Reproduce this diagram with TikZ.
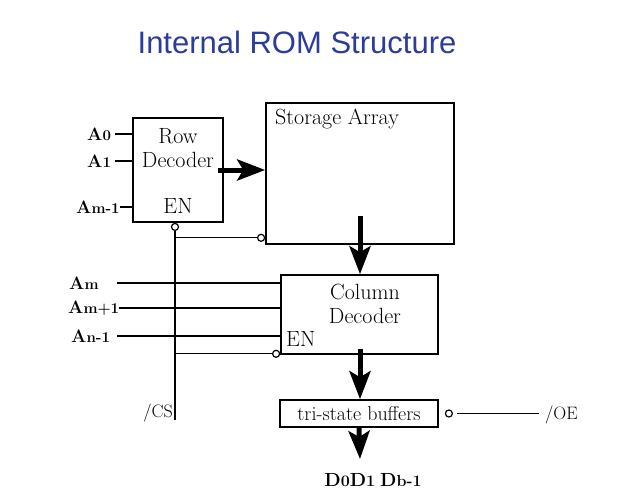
\documentclass[tikz,border=0pt]{standalone}
\usepackage{fontspec}
\newfontfamily\titlefont{Liberation Sans}
\usetikzlibrary{arrows.meta, positioning}
\definecolor{mTitle}{HTML}{2B3C9A}
\newcommand\pinlbl[2]{{\fontsize{18}{20}\selectfont #1}{\fontsize{15}{17}\selectfont #2}}
\newcommand\outlbl[2]{{\fontsize{19}{20}\selectfont #1}{\fontsize{16}{17}\selectfont #2}}

\begin{document}
\begin{tikzpicture}[x=1pt, y=-1pt,
    blk/.style={draw, line width=1.6pt, inner sep=0pt},
    boxtxt/.style={font=\fontsize{22}{24}\selectfont, align=center, inner sep=0pt},
    pin/.style={font=\bfseries, inner sep=0pt},
    sig/.style={font=\fontsize{18}{20}\selectfont, inner sep=0pt},
    wire/.style={line width=1.2pt},
    bub/.style={draw, circle, line width=1.2pt, fill=white, minimum size=7pt, inner sep=0pt},
    bigarrow/.style={line width=5pt, -{Stealth[length=28pt, width=21pt, inset=6pt]}}]
  \useasboundingbox (0,0) rectangle (633,498);

  % title
  \node[font=\titlefont\fontsize{31}{36}\selectfont, text=mTitle] (title) at (297,42) {Internal ROM Structure};

  % blocks
  \node[blk, minimum width=90pt, minimum height=104pt] (rowdec) at (178,170) {};
  \node[boxtxt] (rowtxt) at (178,148) {Row\\Decoder};
  \node[boxtxt] (rowen) at (178,206) {EN};
  \node[blk, minimum width=188pt, minimum height=141pt] (storage) at (360,173.5) {};
  \node[boxtxt, anchor=west] (sttxt) at (275,119) {Storage Array};
  \node[blk, minimum width=157pt, minimum height=79pt] (coldec) at (359.5,314.5) {};
  \node[boxtxt] (coltxt) at (365,303.5) {Column\\Decoder};
  \node[boxtxt, anchor=west] (colen) at (286,339) {EN};
  \node[blk, boxtxt, font=\fontsize{20}{22}\selectfont, minimum width=158pt, minimum height=27pt] (tristate) at (359,413.5) {tri-state buffers};

  % data path
  \draw[bigarrow] ([xshift=-6pt]rowdec.east) -- (rowdec.east -| storage.west);
  \draw[bigarrow] ([yshift=29pt]storage.south) -- (storage.south |- coldec.north);
  \draw[bigarrow] ([yshift=6pt]coldec.south -| storage.south) -- (storage.south |- tristate.north);
  \coordinate (dtip) at (360,459);
  \draw[bigarrow] (tristate.south) -- (dtip);
  \node[pin] (dout) at (373,480) {\outlbl{D}{0}\outlbl{D}{1}\enspace\outlbl{D}{b-1}};

  % address inputs
  \node[pin, anchor=west] (a0) at (87,134) {\pinlbl{A}{0}};
  \node[pin, anchor=west] (a1) at (87,161) {\pinlbl{A}{1}};
  \node[pin, anchor=west] (am1) at (76,207) {\pinlbl{A}{m-1}};
  \draw[wire] ([xshift=4pt]a0.east) -- (a0 -| rowdec.west);
  \draw[wire] ([xshift=4pt]a1.east) -- (a1 -| rowdec.west);
  \draw[wire] (am1.east) -- (am1 -| rowdec.west);

  \coordinate (inx) at (117,0);
  \node[pin, anchor=west] (am) at (69,283) {\pinlbl{A}{m}};
  \node[pin, anchor=west] (amp1) at (68,308) {\pinlbl{A}{m+1}};
  \node[pin, anchor=west] (an1) at (71,336) {\pinlbl{A}{n-1}};
  \draw[wire] (am -| inx) -- (am -| coldec.west);
  \draw[line width=1.7pt] (amp1.east) -- (amp1 -| coldec.west);
  \draw[wire] (an1 -| inx) -- (an1 -| coldec.west);

  % chip select
  \node[bub, anchor=north] (rowbub) at ([xshift=-3pt]rowdec.south) {};
  \coordinate (csend) at (175,420);
  \node[sig, anchor=east] (cs) at (173,413) {/CS};
  \draw[line width=1.6pt] (rowbub.south) -- (csend);
  \node[bub, anchor=east] (stbub) at ([yshift=7pt]storage.south west) {};
  \draw[wire] (stbub.west) -- (stbub.west -| rowbub.south);
  \node[bub, anchor=east] (colbub) at ([yshift=1pt]coldec.south west) {};
  \draw[wire] (colbub.west) -- (colbub.west -| rowbub.south);

  % output enable
  \node[bub, anchor=west] (oebub) at ([xshift=6pt]tristate.east) {};
  \node[sig, anchor=west] (oe) at (545,415) {/OE};
  \draw[wire] ([xshift=4pt]oebub.east) -- ([xshift=-6pt]oebub.east -| oe.west);
\end{tikzpicture}
\end{document}
